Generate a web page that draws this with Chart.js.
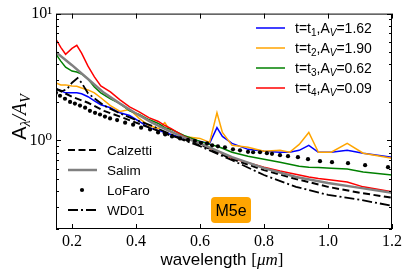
<!DOCTYPE html>
<html>
<head>
<meta charset="utf-8">
<script src="https://cdn.jsdelivr.net/npm/chart.js@4.4.0/dist/chart.umd.min.js"></script>
<style>
  html, body { margin: 0; padding: 0; background: #fff; }
</style>
</head>
<body>
<canvas id="myChart" width="407" height="278"></canvas>
<script>
// ---- data ----
const wlGrid = [0.15, 0.165, 0.18, 0.20, 0.215, 0.23, 0.25, 0.27, 0.29, 0.32, 0.35, 0.38, 0.41, 0.44, 0.47, 0.49, 0.51, 0.55, 0.60, 0.63, 0.653, 0.67, 0.70, 0.75, 0.80, 0.85, 0.88, 0.91, 0.94, 0.97, 1.01, 1.06, 1.11, 1.20];
const t1Vals = [2.55, 2.46, 2.37, 2.37, 2.37, 2.33, 2.21, 2.05, 1.91, 1.81, 1.65, 1.57, 1.41, 1.26, 1.20, 1.155, 1.114, 1.037, 0.982, 0.947, 1.26, 1.075, 0.947, 0.850, 0.820, 0.806, 0.806, 0.835, 0.914, 0.806, 0.806, 0.835, 0.792, 0.737];
const t2Vals = [2.84, 2.74, 2.74, 2.69, 2.67, 2.59, 2.50, 2.37, 2.17, 1.88, 1.69, 1.75, 1.49, 1.31, 1.24, 1.38, 1.155, 1.075, 1.037, 0.965, 1.65, 1.155, 0.914, 0.882, 0.820, 0.835, 0.806, 0.930, 1.155, 0.806, 0.806, 0.947, 0.792, 0.723];
const t3Vals = [4.78, 4.22, 3.78, 3.52, 3.46, 3.34, 3.05, 2.64, 2.37, 2.13, 1.95, 1.71, 1.60, 1.46, 1.36, 1.26, 1.22, 1.094, 0.982, 0.930, 0.898, 0.866, 0.806, 0.750, 0.711, 0.673, 0.649, 0.626, 0.615, 0.610, 0.604, 0.594, 0.563, 0.533];
const t4Vals = [6.26, 5.42, 4.78, 5.32, 5.62, 4.87, 3.85, 3.17, 2.69, 2.41, 2.09, 1.84, 1.68, 1.51, 1.41, 1.31, 1.24, 1.075, 0.947, 0.866, 0.820, 0.792, 0.723, 0.667, 0.615, 0.573, 0.552, 0.533, 0.514, 0.500, 0.487, 0.470, 0.430, 0.393];
const tIndex = ['1', '2', '3', '4'];
const avValues = ['1.62', '1.90', '0.62', '0.09'];

const modelWl = [0.15, 0.2, 0.25, 0.3, 0.35, 0.4, 0.45, 0.5, 0.55, 0.6, 0.7, 0.8, 0.9, 1.0, 1.1, 1.2];
const calzettiVals = [2.55, 2.21, 1.98, 1.71, 1.54, 1.38, 1.24, 1.11, 1.02, 0.93, 0.711, 0.583, 0.496, 0.430, 0.386, 0.353];
const salimVals = [4.96, 3.92, 3.05, 2.37, 1.95, 1.63, 1.38, 1.20, 1.055, 0.947, 0.737, 0.604, 0.514, 0.462, 0.422, 0.386];

const wdWl = [0.15, 0.17, 0.185, 0.2, 0.2175, 0.23, 0.25, 0.27, 0.3, 0.35, 0.4, 0.45, 0.5, 0.55, 0.6, 0.7, 0.8, 0.9, 1.0, 1.1, 1.2];
const wd01Vals = [2.55, 2.45, 2.55, 2.85, 3.1, 2.85, 2.35, 2.15, 1.88, 1.63, 1.45, 1.30, 1.14, 1.0, 0.90, 0.698, 0.533, 0.43, 0.372, 0.34, 0.305];

const loFaroWl = [0.150, 0.1625, 0.178, 0.194, 0.209, 0.225, 0.241, 0.256, 0.272, 0.2875, 0.303, 0.319, 0.341, 0.366, 0.391, 0.416, 0.444, 0.469, 0.491, 0.5125, 0.5375, 0.5625, 0.584, 0.603, 0.622, 0.638, 0.656, 0.678, 0.703, 0.725, 0.75, 0.766, 0.7875, 0.809, 0.825, 0.85, 0.875, 0.906, 0.9375, 0.975, 1.0125, 1.0625, 1.116, 1.1875];
const loFaroVals = [2.37, 2.25, 2.13, 2.01, 1.95, 1.88, 1.81, 1.71, 1.65, 1.60, 1.54, 1.49, 1.445, 1.38, 1.33, 1.26, 1.22, 1.155, 1.114, 1.075, 1.037, 1.009, 0.991, 0.956, 0.947, 0.914, 0.898, 0.882, 0.850, 0.835, 0.813, 0.806, 0.806, 0.792, 0.784, 0.764, 0.750, 0.737, 0.711, 0.686, 0.673, 0.661, 0.638, 0.615];

const xTickVals = [0.2, 0.4, 0.6, 0.8, 1.0, 1.2];
const yMajorTicks = [1, 10];
const yMinorTicks = [0.2, 0.3, 0.4, 0.5, 0.6, 0.7, 0.8, 0.9, 2, 3, 4, 5, 6, 7, 8, 9];
const boxText = 'M5e';

const SANS = '"Liberation Sans", Arial, sans-serif';
const SERIF = '"Liberation Serif", "DejaVu Serif", serif';

const pts = (xs, ys) => xs.map((x, i) => ({ x: x, y: ys[i] }));

const tColors = ['#0000ff', '#ffa500', '#008000', '#ff0000'];
const tSets = [t1Vals, t2Vals, t3Vals, t4Vals].map((vals, i) => ({
  label: 't=t' + tIndex[i] + ',AV=' + avValues[i],
  group: 'top',
  idx: i,
  data: pts(wlGrid, vals),
  borderColor: tColors[i],
  borderWidth: 1.5,
  pointRadius: 0,
  order: 10 - i
}));

const modelSets = [
  { label: 'Calzetti', group: 'bottom', kind: 'line', data: pts(modelWl, calzettiVals),
    borderColor: '#000', borderWidth: 2, borderDash: [7, 3.5], pointRadius: 0, order: 4 },
  { label: 'Salim', group: 'bottom', kind: 'line', data: pts(modelWl, salimVals),
    borderColor: '#808080', borderWidth: 2.5, pointRadius: 0, order: 3 },
  { label: 'LoFaro', group: 'bottom', kind: 'dot', data: pts(loFaroWl, loFaroVals),
    showLine: false, borderColor: '#000', backgroundColor: '#000', pointRadius: 2.1, borderWidth: 0, order: 2 },
  { label: 'WD01', group: 'bottom', kind: 'line', data: pts(wdWl, wd01Vals),
    borderColor: '#000', borderWidth: 1.8, borderDash: [10, 3, 2, 3], pointRadius: 0, order: 1 }
];

function drawParts(ctx, x, y, parts, align) {
  let total = 0;
  parts.forEach(p => { ctx.font = p.font; p.w = ctx.measureText(p.text).width; total += p.w; });
  let cx = align === 'center' ? x - total / 2 : x;
  parts.forEach(p => { ctx.font = p.font; ctx.fillText(p.text, cx, y + (p.dy || 0)); cx += p.w; });
}

const decorations = {
  id: 'decorations',
  afterDatasetsDraw(chart) {
    const { ctx, chartArea: a, scales: { x, y } } = chart;
    ctx.save();
    ctx.strokeStyle = '#000';
    ctx.lineWidth = 1;
    ctx.setLineDash([]);
    ctx.beginPath();
    xTickVals.forEach(v => {
      const px = Math.round(x.getPixelForValue(v)) + 0.5;
      ctx.moveTo(px, a.bottom); ctx.lineTo(px, a.bottom - 5);
      ctx.moveTo(px, a.top); ctx.lineTo(px, a.top + 5);
    });
    yMajorTicks.forEach(v => {
      const py = Math.round(y.getPixelForValue(v)) + 0.5;
      ctx.moveTo(a.left, py); ctx.lineTo(a.left + 5, py);
      ctx.moveTo(a.right, py); ctx.lineTo(a.right - 5, py);
    });
    yMinorTicks.forEach(v => {
      const py = Math.round(y.getPixelForValue(v)) + 0.5;
      ctx.moveTo(a.left, py); ctx.lineTo(a.left + 3, py);
      ctx.moveTo(a.right, py); ctx.lineTo(a.right - 3, py);
    });
    ctx.stroke();
    ctx.strokeRect(a.left + 0.5, a.top + 0.5, a.right - a.left - 1, a.bottom - a.top - 1);
    ctx.restore();
  },
  afterDraw(chart) {
    const { ctx } = chart;
    const ds = chart.data.datasets;
    ctx.save();
    ctx.fillStyle = '#000';
    ctx.textBaseline = 'alphabetic';

    // upper-right legend
    const f = '14px ' + SANS, fs = '10px ' + SANS, fsi = 'italic 10px ' + SANS;
    ds.filter(d => d.group === 'top').forEach(d => {
      const ry = 28 + 20 * d.idx;
      ctx.strokeStyle = d.borderColor; ctx.lineWidth = 1.5; ctx.setLineDash([]);
      ctx.beginPath(); ctx.moveTo(256, ry); ctx.lineTo(285, ry); ctx.stroke();
      drawParts(ctx, 295, ry + 5, [
        { text: 't=t', font: f }, { text: tIndex[d.idx], font: fs, dy: 3 },
        { text: ',A', font: f }, { text: 'V', font: fsi, dy: 3 },
        { text: '=' + avValues[d.idx], font: f }
      ]);
    });

    // lower-left legend
    const fb = '13.5px ' + SANS;
    ds.filter(d => d.group === 'bottom').forEach((d, i) => {
      const ry = 150 + 20 * i;
      if (d.kind === 'dot') {
        ctx.beginPath(); ctx.arc(82, ry, d.pointRadius, 0, Math.PI * 2); ctx.fill();
      } else {
        ctx.strokeStyle = d.borderColor; ctx.lineWidth = d.borderWidth;
        ctx.setLineDash(d.borderDash || []);
        ctx.beginPath(); ctx.moveTo(68, ry); ctx.lineTo(97, ry); ctx.stroke();
      }
      ctx.font = fb;
      ctx.fillText(d.label, 107, ry + 5);
    });
    ctx.setLineDash([]);

    // box label
    ctx.fillStyle = '#ffa500';
    ctx.beginPath();
    ctx.roundRect(211, 197, 40, 26, 4);
    ctx.fill();
    ctx.fillStyle = '#000';
    ctx.font = '16px ' + SANS;
    ctx.textAlign = 'center';
    ctx.fillText(boxText, 231, 216);
    ctx.textAlign = 'left';

    // x title
    drawParts(ctx, 222, 265, [
      { text: 'wavelength ', font: '17px ' + SANS },
      { text: '[', font: '17px ' + SERIF },
      { text: 'μm', font: 'italic 17px ' + SERIF },
      { text: ']', font: '17px ' + SERIF }
    ], 'center');

    // y title
    ctx.translate(20, 117);
    ctx.rotate(-Math.PI / 2);
    drawParts(ctx, 0, 6, [
      { text: 'A', font: '20px ' + SANS },
      { text: 'λ', font: 'italic 14px ' + SERIF, dy: 4 },
      { text: '/', font: 'italic 20px ' + SERIF },
      { text: 'A', font: 'italic 20px ' + SERIF },
      { text: 'V', font: 'italic 14px ' + SERIF, dy: 4 }
    ], 'center');
    ctx.restore();
  }
};

const ctx = document.getElementById('myChart').getContext('2d');
const chart = new Chart(ctx, {
  type: 'line',
  data: { datasets: tSets.concat(modelSets) },
  options: {
    responsive: false,
    animation: false,
    devicePixelRatio: 1,
    layout: { padding: { top: 12, right: 15, left: 0, bottom: 0 } },
    elements: { line: { tension: 0, fill: false } },
    plugins: { legend: { display: false }, tooltip: { enabled: false } },
    scales: {
      x: {
        type: 'linear',
        min: 0.15,
        max: 1.2,
        grid: { display: false, drawTicks: false },
        border: { display: false },
        afterBuildTicks: s => { s.ticks = xTickVals.map(v => ({ value: v })); },
        afterFit: s => { s.height = 49; },
        ticks: {
          padding: 3,
          color: '#000',
          font: { family: SERIF, size: 16 },
          callback: v => Number(v).toFixed(1)
        }
      },
      y: {
        type: 'logarithmic',
        min: 0.2,
        max: 10,
        grid: { display: false, drawTicks: false },
        border: { display: false },
        afterBuildTicks: s => { s.ticks = yMajorTicks.map(v => ({ value: v, major: true })); },
        afterFit: s => { s.width = 56; },
        ticks: {
          padding: 4,
          color: '#000',
          font: { family: SERIF, size: 16 },
          callback: v => (v === 1 ? '10⁰' : '10¹')
        }
      }
    }
  },
  plugins: [decorations]
});
</script>
</body>
</html>
